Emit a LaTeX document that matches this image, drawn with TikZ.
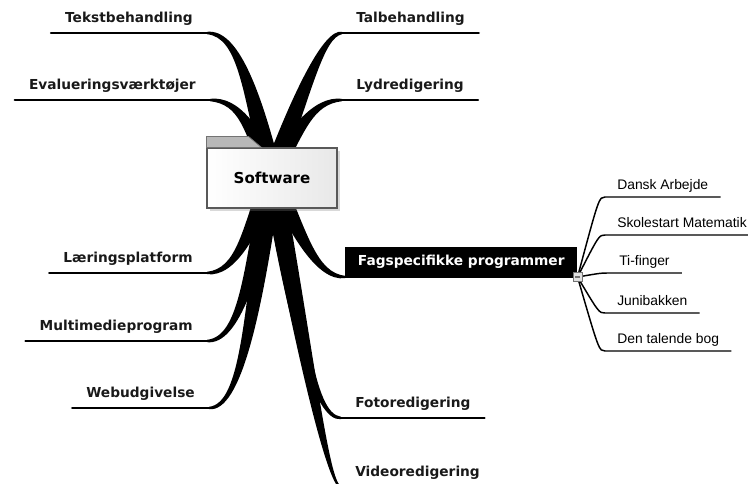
\documentclass[tikz,border=0pt]{standalone}
\usepackage{fontspec}
\setmainfont{DejaVu Sans}
\newfontfamily\subfont{Liberation Sans}
\usetikzlibrary{calc, shadows, positioning}

\begin{document}
\begin{tikzpicture}[
    x=0.75pt, y=-0.75pt,
    topic/.style={font=\bfseries\fontsize{10.3}{12}\selectfont, text=black!90, inner xsep=10.5pt, inner ysep=7.5pt, text height=8pt, text depth=0pt},
    subtopic/.style={font=\subfont\fontsize{10.4}{12}\selectfont, inner xsep=9pt, inner ysep=5.3pt, text height=7.5pt, text depth=0pt},
    uline/.style={line width=1.6pt, line cap=round},
    subline/.style={line width=1.1pt},
    branch/.style={fill=black},
    folder/.style={draw=black!65, line width=0.8pt, left color=white, right color=black!9, minimum width=97.5pt, minimum height=45pt, font=\bfseries\fontsize{11.3}{13}\selectfont, drop shadow={shadow xshift=2pt, shadow yshift=-2pt, opacity=0.3}},
    foldertab/.style={draw=black!55, fill=black!28, line width=0.6pt},
    special/.style={fill=black, text=white, font=\bfseries\fontsize{10.3}{13}\selectfont, minimum width=174pt, minimum height=22.5pt, inner sep=0pt},
    toggle/.style={draw=black!55, fill=black!12, minimum size=6.8pt, inner sep=0pt}
]
    \useasboundingbox (0,0) rectangle (748,483);
    \clip (0,0) rectangle (748,483);

    \coordinate (hub) at (272,174);

    % left topics
    \node[topic, anchor=south east] (tekst) at (207,33) {Tekstbehandling};
    \node[topic, anchor=south east] (eval) at (210,100) {Evalueringsværktøjer};
    \node[topic, anchor=south east] (laering) at (207,273) {Læringsplatform};
    \node[topic, anchor=south east] (multi) at (207,341) {Multimedieprogram};
    \node[topic, anchor=south east] (webud) at (209,408) {Webudgivelse};

    % right topics
    \node[topic, anchor=south west] (tal) at (342,33) {Talbehandling};
    \node[topic, anchor=south west] (lyd) at (342,100) {Lydredigering};
    \node[special, anchor=south west] (fag) at (345,277) {Fagspecifikke programmer};
    \node[topic, anchor=south west] (foto) at (341,418) {Fotoredigering};
    \node[topic, anchor=south west] (video) at (341,487) {Videoredigering};

    % bends
    \coordinate (tekst-q) at (238,33);
    \coordinate (eval-q) at (240,100);
    \coordinate (laering-q) at (236,273);
    \coordinate (multi-q) at (239,341);
    \coordinate (webud-q) at (241,408);
    \coordinate (tal-q) at (324,33);
    \coordinate (lyd-q) at (313,100);
    \coordinate (fag-q) at (317,277);
    \coordinate (foto-q) at (313,418);
    \coordinate (video-q) at (329,487);

    % underlines
    \draw[uline] (tekst.south west) -- (tekst.south east);
    \draw[uline] (eval.south west) -- (eval.south east);
    \draw[uline] (laering.south west) -- (laering.south east);
    \draw[uline] (multi.south west) -- (multi.south east);
    \draw[uline] (webud.south west) -- (webud.south east);
    \draw[uline] (tal.south west) -- (tal.south east);
    \draw[uline] (lyd.south west) -- (lyd.south east);
    \draw[uline] (fag.south west) -- (fag.south east);
    \draw[uline] (foto.south west) -- (foto.south east);
    \draw[uline] (video.south west) -- (video.south east);

    % thick branches, upper left
    \fill[branch] ($(hub)+(-10,0)$) .. controls ($(hub)!0.6!(tekst-q)+(-9,0)$) and ($(tekst-q)+(0,4.5)$) .. ($(tekst.south east)+(0,1.2)$) -- ($(tekst.south east)+(0,-1.2)$) .. controls ($(tekst-q)+(0,-4.5)$) and ($(hub)!0.6!(tekst-q)+(9,0)$) .. ($(hub)+(10,0)$) -- cycle;
    \fill[branch] ($(hub)+(-10,0)$) .. controls ($(hub)!0.6!(eval-q)+(-9,0)$) and ($(eval-q)+(0,4.5)$) .. ($(eval.south east)+(0,1.2)$) -- ($(eval.south east)+(0,-1.2)$) .. controls ($(eval-q)+(0,-4.5)$) and ($(hub)!0.6!(eval-q)+(9,0)$) .. ($(hub)+(10,0)$) -- cycle;
    % lower left
    \fill[branch] ($(hub)+(-10,0)$) .. controls ($(hub)!0.6!(laering-q)+(-9,0)$) and ($(laering-q)+(0,-4.5)$) .. ($(laering.south east)+(0,-1.2)$) -- ($(laering.south east)+(0,1.2)$) .. controls ($(laering-q)+(0,4.5)$) and ($(hub)!0.6!(laering-q)+(9,0)$) .. ($(hub)+(10,0)$) -- cycle;
    \fill[branch] ($(hub)+(-10,0)$) .. controls ($(hub)!0.6!(multi-q)+(-9,0)$) and ($(multi-q)+(0,-4.5)$) .. ($(multi.south east)+(0,-1.2)$) -- ($(multi.south east)+(0,1.2)$) .. controls ($(multi-q)+(0,4.5)$) and ($(hub)!0.6!(multi-q)+(9,0)$) .. ($(hub)+(10,0)$) -- cycle;
    \fill[branch] ($(hub)+(-10,0)$) .. controls ($(hub)!0.6!(webud-q)+(-9,0)$) and ($(webud-q)+(0,-4.5)$) .. ($(webud.south east)+(0,-1.2)$) -- ($(webud.south east)+(0,1.2)$) .. controls ($(webud-q)+(0,4.5)$) and ($(hub)!0.6!(webud-q)+(9,0)$) .. ($(hub)+(10,0)$) -- cycle;
    % upper right
    \fill[branch] ($(hub)+(-10,0)$) .. controls ($(hub)!0.6!(tal-q)+(-9,0)$) and ($(tal-q)+(0,-4.5)$) .. ($(tal.south west)+(0,-1.2)$) -- ($(tal.south west)+(0,1.2)$) .. controls ($(tal-q)+(0,4.5)$) and ($(hub)!0.6!(tal-q)+(9,0)$) .. ($(hub)+(10,0)$) -- cycle;
    \fill[branch] ($(hub)+(-10,0)$) .. controls ($(hub)!0.6!(lyd-q)+(-9,0)$) and ($(lyd-q)+(0,-4.5)$) .. ($(lyd.south west)+(0,-1.2)$) -- ($(lyd.south west)+(0,1.2)$) .. controls ($(lyd-q)+(0,4.5)$) and ($(hub)!0.6!(lyd-q)+(9,0)$) .. ($(hub)+(10,0)$) -- cycle;
    % lower right
    \fill[branch] ($(hub)+(-10,0)$) .. controls ($(hub)!0.6!(fag-q)+(-9,0)$) and ($(fag-q)+(0,4.5)$) .. ($(fag.south west)+(0,1.2)$) -- ($(fag.south west)+(0,-1.2)$) .. controls ($(fag-q)+(0,-4.5)$) and ($(hub)!0.6!(fag-q)+(9,0)$) .. ($(hub)+(10,0)$) -- cycle;
    \fill[branch] ($(hub)+(-10,0)$) .. controls ($(hub)!0.6!(foto-q)+(-9,0)$) and ($(foto-q)+(0,4.5)$) .. ($(foto.south west)+(0,1.2)$) -- ($(foto.south west)+(0,-1.2)$) .. controls ($(foto-q)+(0,-4.5)$) and ($(hub)!0.6!(foto-q)+(9,0)$) .. ($(hub)+(10,0)$) -- cycle;
    \fill[branch] ($(hub)+(-10,0)$) .. controls ($(hub)!0.6!(video-q)+(-9,0)$) and ($(video-q)+(0,4.5)$) .. ($(video.south west)+(0,1.2)$) -- ($(video.south west)+(0,-1.2)$) .. controls ($(video-q)+(0,-4.5)$) and ($(hub)!0.6!(video-q)+(9,0)$) .. ($(hub)+(10,0)$) -- cycle;

    % central folder
    \node[folder] (soft) at (272,178) {Software};
    \filldraw[foldertab] (soft.north west) -- ++(0,-11) -- ++(42,0) -- ++(13,11) -- cycle;

    % sub topics
    \node[subtopic, anchor=south west] (dansk) at (605,197) {Dansk Arbejde};
    \node[subtopic, anchor=south west] (skole) at (605,235) {Skolestart Matematik};
    \node[subtopic, anchor=south west] (tifinger) at (607,273) {Ti-finger};
    \node[subtopic, anchor=south west] (juni) at (605,313) {Junibakken};
    \node[subtopic, anchor=south west] (bog) at (605,351) {Den talende bog};

    \draw[subline] (fag.south east) .. controls ($(dansk.south west)+(-6,0)$) .. (dansk.south west) -- (dansk.south east);
    \draw[subline] (fag.south east) .. controls ($(skole.south west)+(-6,0)$) .. (skole.south west) -- (skole.south east);
    \draw[subline] (fag.south east) .. controls ($(tifinger.south west)+(-6,0)$) .. (tifinger.south west) -- (tifinger.south east);
    \draw[subline] (fag.south east) .. controls ($(juni.south west)+(-6,0)$) .. (juni.south west) -- (juni.south east);
    \draw[subline] (fag.south east) .. controls ($(bog.south west)+(-6,0)$) .. (bog.south west) -- (bog.south east);

    \node[toggle, path picture={\draw[line width=0.8pt] ([xshift=1.4pt]path picture bounding box.west) -- ([xshift=-1.4pt]path picture bounding box.east);}] (fagtog) at (fag.south east) {};
\end{tikzpicture}
\end{document}
